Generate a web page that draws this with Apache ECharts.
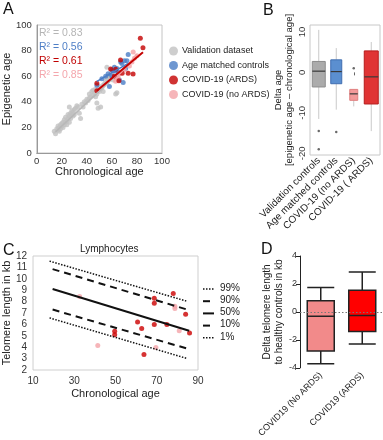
<!DOCTYPE html>
<html>
<head>
<meta charset="utf-8">
<script src="https://cdn.jsdelivr.net/npm/echarts@6/dist/echarts.min.js"></script>
<style>
  html, body { margin: 0; padding: 0; background: #fff; }
  #chart { width: 383px; height: 440px; }
</style>
</head>
<body>
<div id="chart"></div>
<script>
// ---- panel A : epigenetic vs chronological age ----
var grayA = [[14,17],[15,15],[16,19],[17,18],[17,21],[18,17],[18,20],[19,22],[19,19],[20,23],[20,21],[21,24],
  [21,20],[22,22],[22,26],[23,24],[23,28],[24,25],[24,22],[25,27],[25,30],[26,24],[26,29],[26,36],[27,31],[27,27],
  [28,33],[28,30],[29,32],[29,29],[30,34],[30,30],[31,35],[32,37],[33,36],[34,31],[35,27],[36,38],[37,36],[38,40],
  [39,39],[40,42],[41,41],[42,43],[42,46],[43,44],[44,48],[45,45],[45,49],[46,47],[47,50],[47,44],[48,46],[48,39],
  [49,49],[49,35],[50,48],[50,52],[51,36],[51,50],[52,51],[53,53],[53,48],[54,54],[55,56],[56,58],[56,55],[57,60],
  [58,59],[59,61],[60,63],[56,67],[63,46],[64,47],[61,57]];
var blueA = [[48,53],[52,58],[57,62],[58,52],[60,65],[61,64],[62,67],[63,64],[64,66],[65,63],[66,57],[67,71],
  [68,70],[69,55],[70,72],[72,72],[73,77],[71,66],[60,60],[55,60]];
var redA = [[48,54.5],[48,48.7],[59,65.6],[63,65.4],[65.6,56.5],[66.9,72.7],[68.2,62.3],[73,62.3],[76.9,61.7],
  [82.7,89.6],[84.8,82.3],[62,60]];
var pinkA = [[63,56],[65,59],[66,62],[70,65],[74,68],[76,71],[78,74],[80,76],[77,79]];
var grayFit = [[15,16.5],[66,63]];
var blueFit = [[48,56],[73,70]];
var pinkFit = [[62,57],[80,77]];
var redFit = [[48,48.7],[84.8,78.7]];
var r2Labels = ['R² = 0.83', 'R² = 0.56', 'R² = 0.61', 'R² = 0.85'];

// ---- panel B : delta age boxplots ----
var catsB = ['Validation controls', 'Age matched controls', 'COVID-19 (no ARDS)', 'COVID-19 ( ARDS)'];
// low, q1, median, q3, high
var statsB = [[-11.5,-3.6,0.3,2.7,10.5],[-9.2,-2.8,0.2,3.1,6],[-8.4,-6.9,-5.3,-4.2,-4.2],[-14.5,-7.8,-1.1,5.3,7.5]];
var outliersB = [[0,-14.5],[0,-19],[1,-14.7],[2,1]];

// ---- panel C : telomere length ----
var ardsC = [[78,8.7],[68.8,8.3],[68.8,7.85],[84,6.9],[60.7,6.2],[62.7,5.65],[68.8,6.0],[74.9,6.0],
  [49.6,5.4],[49.6,5.1],[85.9,5.25],[63.8,3.35]];
var noArdsC = [[32.6,8.45],[78.8,7.6],[78.8,7.4],[80.9,5.45],[41.4,4.15],[69.6,3.97]];
var p99 = [[18,11.55],[84.3,8.05]];
var p90 = [[19.5,10.85],[85.7,7.25]];
var p50 = [[19.5,9.1],[85.7,5.45]];
var p10 = [[19.5,7.3],[85.7,3.83]];
var p01 = [[18,6.57],[84.3,3.03]];
var pctNames = ['99%', '90%', '50%', '10%', '1%'];

// ---- panel D : delta telomere length ----
var catsD = ['COVID19 (No ARDS)', 'COVID19 (ARDS)'];
var statsD = [[-3.7,-2.8,-0.3,0.8,1.75],[-2.3,-1.4,-0.25,1.55,2.85]];

var FONT = "'Liberation Sans', Arial, sans-serif";
var colB = [
  {fill:'#ababab', stroke:'#8c8c8c'},
  {fill:'#5b8fd0', stroke:'#3f6db0'},
  {fill:'#f39a9a', stroke:'#e08080'},
  {fill:'#e03434', stroke:'#b51c1c'}
];
var boxWidthsB = [13, 11, 8, 14];
var DOT = [1.5, 1.5], DASH = [7, 5];
var pctStyles = [
  {width: 1.5, type: DOT}, {width: 2, type: DASH}, {width: 2, type: 'solid'},
  {width: 2, type: DASH}, {width: 1.5, type: DOT}
];

var chart = echarts.init(document.getElementById('chart'), null, {renderer: 'canvas'});

function lbl(size, color) { return {fontSize: size, color: color || '#333', fontFamily: FONT}; }

// hand made legend for the percentile lines of panel C
var legendC = [];
pctNames.forEach(function (n, i) {
  var y = 289 + i * 12.2;
  var st = pctStyles[i];
  legendC.push({type: 'line', shape: {x1: 203, y1: y, x2: 214, y2: y},
    style: {stroke: '#111', lineWidth: st.width, lineDash: st.type === 'solid' ? null : st.type}});
  legendC.push({type: 'text', left: 220, top: y - 6, style: {text: n, font: '10px ' + FONT, fill: '#222'}});
});

var option = {
  animation: false,
  textStyle: {fontFamily: FONT},
  grid: [
    {left: 35, top: 25, width: 127, height: 128, show: true, borderColor: '#c4c4c4', borderWidth: 1},
    {left: 310, top: 25, width: 70, height: 130, show: true, borderColor: '#c8c8c8', borderWidth: 1},
    {left: 28, top: 256, width: 170, height: 114, show: true, borderColor: '#cfcfcf', borderWidth: 1},
    {left: 300, top: 256, width: 83, height: 116}
  ],
  xAxis: [
    {gridIndex: 0, type: 'value', min: 0, max: 100, interval: 20,
      name: 'Chronological age', nameLocation: 'middle', nameGap: 10,
      nameTextStyle: lbl(11, '#222'),
      axisLine: {lineStyle: {color: '#999'}}, axisTick: {show: false},
      axisLabel: Object.assign(lbl(9.5), {margin: 3}), splitLine: {show: false}},
    {gridIndex: 1, type: 'category', data: catsB,
      axisLine: {show: false}, axisTick: {show: true, alignWithLabel: true, length: 3, lineStyle: {color: '#666'}},
      axisLabel: Object.assign(lbl(10, '#222'), {rotate: 45, margin: 4, interval: 0}), splitLine: {show: false}},
    {gridIndex: 2, type: 'value', min: 10, max: 90, interval: 20,
      name: 'Chronological age', nameLocation: 'middle', nameGap: 18,
      nameTextStyle: lbl(11, '#222'),
      axisLine: {show: false}, axisTick: {show: false},
      axisLabel: Object.assign(lbl(10), {margin: 6}), splitLine: {show: false}},
    {gridIndex: 3, type: 'category', data: catsD,
      axisLine: {show: false}, axisTick: {show: true, alignWithLabel: true, length: 4, lineStyle: {color: '#222'}},
      axisLabel: Object.assign(lbl(9, '#222'), {rotate: 45, margin: 6, interval: 0}), splitLine: {show: false}}
  ],
  yAxis: [
    {gridIndex: 0, type: 'value', min: 0, max: 100, interval: 20,
      name: 'Epigenetic age', nameLocation: 'middle', nameGap: 21, nameRotate: 90,
      nameTextStyle: lbl(11, '#222'),
      axisLine: {show: true, lineStyle: {color: '#999'}}, axisTick: {show: false},
      axisLabel: Object.assign(lbl(9.5), {margin: 5}), splitLine: {show: false}},
    {gridIndex: 1, type: 'value', min: -20.4, max: 11.7, splitNumber: 3,
      name: 'Delta age\n[epigenetic age – chronological age]', nameLocation: 'middle', nameGap: 15, nameRotate: 90,
      nameTextStyle: Object.assign(lbl(9.5, '#222'), {lineHeight: 11}),
      axisLine: {show: false}, axisTick: {show: false},
      axisLabel: Object.assign(lbl(9.5), {rotate: 90, margin: 3,
        formatter: function (v) { return v % 10 === 0 ? String(v) : ''; }}),
      splitLine: {show: false}},
    {gridIndex: 2, type: 'value', min: 2, max: 12, interval: 1,
      name: 'Telomere length in kb', nameLocation: 'middle', nameGap: 14, nameRotate: 90,
      nameTextStyle: lbl(11, '#222'),
      axisLine: {show: false}, axisTick: {show: false},
      axisLabel: Object.assign(lbl(10), {margin: 6}), splitLine: {show: false}},
    {gridIndex: 3, type: 'value', min: -4, max: 4, interval: 2,
      name: 'Delta telomere length\nto healthy controls in kb', nameLocation: 'middle', nameGap: 11, nameRotate: 90,
      nameTextStyle: Object.assign(lbl(10, '#222'), {lineHeight: 12}),
      axisLine: {show: true, lineStyle: {color: '#222', width: 1}},
      axisTick: {show: true, length: 4, lineStyle: {color: '#222'}},
      axisLabel: Object.assign(lbl(9), {margin: 3}), splitLine: {show: false}}
  ],
  legend: [
    {data: ['Validation dataset', 'Age matched controls', 'COVID-19 (ARDS)', 'COVID-19 (no ARDS)'],
      orient: 'vertical', left: 164, top: 41.5, itemGap: 5.5, itemWidth: 9, itemHeight: 9, icon: 'circle',
      textStyle: Object.assign(lbl(9, '#222'), {padding: [0, 0, 0, -1]})}
  ],
  graphic: [
    {type: 'text', left: 3, top: 2, style: {text: 'A', font: '16px ' + FONT, fill: '#111'}},
    {type: 'text', left: 263, top: 3, style: {text: 'B', font: '16px ' + FONT, fill: '#111'}},
    {type: 'text', left: 3, top: 243, style: {text: 'C', font: '16px ' + FONT, fill: '#111'}},
    {type: 'text', left: 261, top: 242, style: {text: 'D', font: '16px ' + FONT, fill: '#111'}},
    {type: 'text', left: 80, top: 244, style: {text: 'Lymphocytes', font: '10px ' + FONT, fill: '#222'}},
    {type: 'text', left: 39, top: 28, style: {text: r2Labels[0], font: '10.5px ' + FONT, fill: '#b5b5b5'}},
    {type: 'text', left: 39, top: 42, style: {text: r2Labels[1], font: '10.5px ' + FONT, fill: '#4f7fc6'}},
    {type: 'text', left: 39, top: 56, style: {text: r2Labels[2], font: '10.5px ' + FONT, fill: '#c00000'}},
    {type: 'text', left: 39, top: 70, style: {text: r2Labels[3], font: '10.5px ' + FONT, fill: '#f4a6ac'}}
  ].concat(legendC),
  series: [
    // panel A
    {name: 'Validation dataset', type: 'scatter', xAxisIndex: 0, yAxisIndex: 0, data: grayA,
      symbolSize: 5, itemStyle: {color: '#c2c2c2'}},
    {name: 'grayFit', type: 'line', xAxisIndex: 0, yAxisIndex: 0, data: grayFit, symbol: 'none',
      lineStyle: {color: '#b8b8b8', width: 1.5}},
    {name: 'Age matched controls', type: 'scatter', xAxisIndex: 0, yAxisIndex: 0, data: blueA,
      symbolSize: 5, itemStyle: {color: '#4a7dc6'}},
    {name: 'blueFit', type: 'line', xAxisIndex: 0, yAxisIndex: 0, data: blueFit, symbol: 'none',
      lineStyle: {color: '#4a7dc6', width: 1.5}},
    {name: 'COVID-19 (no ARDS)', type: 'scatter', xAxisIndex: 0, yAxisIndex: 0, data: pinkA,
      symbolSize: 5, itemStyle: {color: '#f4a3a8'}},
    {name: 'pinkFit', type: 'line', xAxisIndex: 0, yAxisIndex: 0, data: pinkFit, symbol: 'none',
      lineStyle: {color: '#f4a3a8', width: 1.5}},
    {name: 'COVID-19 (ARDS)', type: 'scatter', xAxisIndex: 0, yAxisIndex: 0, data: redA,
      symbolSize: 5, itemStyle: {color: '#c40000'}},
    {name: 'redFit', type: 'line', xAxisIndex: 0, yAxisIndex: 0, data: redFit, symbol: 'none',
      lineStyle: {color: '#c40000', width: 2}},
    // panel B
    {name: 'boxB', type: 'custom', xAxisIndex: 1, yAxisIndex: 1,
      data: statsB.map(function (s, i) { return [i].concat(s); }),
      encode: {x: 0, y: [1, 2, 3, 4, 5]},
      renderItem: function (params, api) {
        var i = api.value(0);
        var x = api.coord([i, 0])[0];
        var hw = boxWidthsB[i] / 2;
        var y = [1, 2, 3, 4, 5].map(function (d) { return api.coord([i, api.value(d)])[1]; });
        var c = colB[i];
        return {type: 'group', children: [
          {type: 'line', shape: {x1: x, y1: y[0], x2: x, y2: y[1]}, style: {stroke: '#c9c9c9', lineWidth: 1}},
          {type: 'line', shape: {x1: x, y1: y[3], x2: x, y2: y[4]}, style: {stroke: '#c9c9c9', lineWidth: 1}},
          {type: 'rect', shape: {x: x - hw, y: y[3], width: 2 * hw, height: y[1] - y[3]},
            style: {fill: c.fill, stroke: c.stroke, lineWidth: 1}},
          {type: 'line', shape: {x1: x - hw, y1: y[2], x2: x + hw, y2: y[2]}, style: {stroke: '#3a3a3a', lineWidth: 1.2}}
        ]};
      }},
    {name: 'outB', type: 'scatter', xAxisIndex: 1, yAxisIndex: 1, data: outliersB,
      symbolSize: 2.5, itemStyle: {color: '#444'}},
    // panel C
    {name: '99%', type: 'line', xAxisIndex: 2, yAxisIndex: 2, data: p99, symbol: 'none',
      lineStyle: Object.assign({color: '#111'}, pctStyles[0])},
    {name: '90%', type: 'line', xAxisIndex: 2, yAxisIndex: 2, data: p90, symbol: 'none',
      lineStyle: Object.assign({color: '#111'}, pctStyles[1])},
    {name: '50%', type: 'line', xAxisIndex: 2, yAxisIndex: 2, data: p50, symbol: 'none',
      lineStyle: Object.assign({color: '#111'}, pctStyles[2])},
    {name: '10%', type: 'line', xAxisIndex: 2, yAxisIndex: 2, data: p10, symbol: 'none',
      lineStyle: Object.assign({color: '#111'}, pctStyles[3])},
    {name: '1%', type: 'line', xAxisIndex: 2, yAxisIndex: 2, data: p01, symbol: 'none',
      lineStyle: Object.assign({color: '#111'}, pctStyles[4])},
    {name: 'noArdsC', type: 'scatter', xAxisIndex: 2, yAxisIndex: 2, data: noArdsC,
      symbolSize: 5, itemStyle: {color: '#f4a3a8'}},
    {name: 'ardsC', type: 'scatter', xAxisIndex: 2, yAxisIndex: 2, data: ardsC,
      symbolSize: 5, itemStyle: {color: '#cc0000'}},
    // panel D
    {name: 'boxD', type: 'boxplot', xAxisIndex: 3, yAxisIndex: 3, boxWidth: [27, 27],
      data: statsD.map(function (s, i) {
        return {value: s, itemStyle: {color: i === 0 ? '#f28a8a' : '#ff0000', borderColor: '#222', borderWidth: 1.5}};
      }),
      markLine: {silent: true, symbol: 'none', label: {show: false},
        lineStyle: {color: '#777', type: [1.5, 2], width: 1}, data: [{yAxis: 0}]}}
  ]
};
chart.setOption(option);
</script>
</body>
</html>
